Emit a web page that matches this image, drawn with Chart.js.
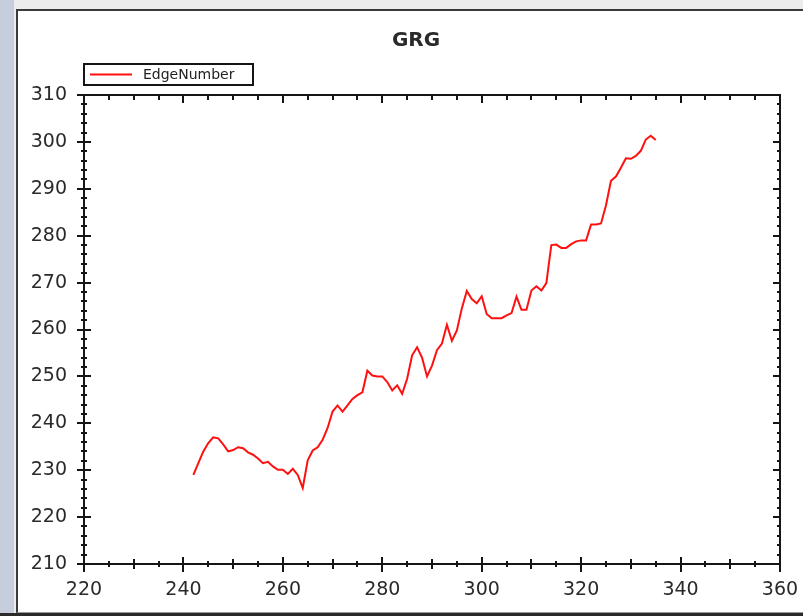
<!DOCTYPE html>
<html><head><meta charset="utf-8">
<script src="https://cdn.jsdelivr.net/npm/chart.js@4.4.0/dist/chart.umd.min.js"></script>
<style>
html,body{margin:0;padding:0;width:803px;height:616px;overflow:hidden;background:#ececec;}
#strip{position:absolute;left:0;top:0;width:14px;height:616px;background:#c6cddc;}
#frame{position:absolute;left:16px;top:9px;width:790px;height:601px;border-left:2px solid #3a3a3a;border-top:2px solid #3a3a3a;border-bottom:1px solid #999;background:#fff;}
#bottom{position:absolute;left:0;top:613px;width:803px;height:3px;background:#2a2a2a;}
#wrap{position:absolute;left:17px;top:11px;width:786px;height:600px;}
</style>
</head><body>
<div id="strip"></div>
<div id="frame"></div>
<div id="bottom"></div>
<div id="wrap"><canvas id="c" width="786" height="600"></canvas></div>
<script>
const chartTitle = 'GRG';
const seriesName = 'EdgeNumber';
const xValues = [242,243,244,245,246,247,248,249,250,251,252,253,254,255,256,257,258,259,260,261,262,263,264,265,266,267,268,269,270,271,272,273,274,275,276,277,278,279,280,281,282,283,284,285,286,287,288,289,290,291,292,293,294,295,296,297,298,299,300,301,302,303,304,305,306,307,308,309,310,311,312,313,314,315,316,317,318,319,320,321,322,323,324,325,326,327,328,329,330,331,332,333,334,335];
const yValues = [229.0,231.5,234.0,235.8,237.0,236.8,235.5,234.0,234.3,234.9,234.7,233.8,233.3,232.5,231.5,231.8,230.8,230.1,230.1,229.2,230.3,229.0,226.2,232.1,234.2,234.9,236.5,239.0,242.5,243.8,242.5,243.8,245.2,246.0,246.6,251.2,250.2,250.0,250.0,248.8,247.0,248.1,246.3,249.5,254.5,256.2,254.0,250.0,252.3,255.6,257.0,261.0,257.6,259.8,264.5,268.2,266.5,265.6,267.1,263.3,262.4,262.4,262.4,263.0,263.5,267.0,264.2,264.2,268.3,269.2,268.3,269.9,278.0,278.1,277.4,277.4,278.2,278.8,279.0,279.0,282.4,282.4,282.6,286.5,291.7,292.6,294.5,296.5,296.4,297.0,298.1,300.5,301.3,300.4];
const xTickLabels = [220,240,260,280,300,320,340,360];
const yTickLabels = [210,220,230,240,250,260,270,280,290,300,310];

const points = xValues.map((x,i)=>({x:x, y:yValues[i]}));

const axesBox = {
  id:'axesBox',
  afterLayout(chart){
    if (chart.titleBlock) { chart.titleBlock.left += 35; }
  },
  beforeDatasetsDraw(chart){
    const {ctx, chartArea:a, scales:{x,y}} = chart;
    ctx.save();
    ctx.strokeStyle = '#151515';
    ctx.lineWidth = 2;
    ctx.strokeRect(a.left, a.top, a.right-a.left, a.bottom-a.top);
    ctx.beginPath();
    for (let v = x.min; v <= x.max + 0.001; v += 5) {
      const px = Math.round(x.getPixelForValue(v));
      let up, down, topLen;
      if (v % 20 === 0) { up = 7; down = 8; topLen = 8; }
      else if (v % 10 === 0) { up = 5; down = 5; topLen = 5; }
      else { up = 3; down = 3; topLen = 5; }
      ctx.moveTo(px, a.bottom - up); ctx.lineTo(px, a.bottom + down);
      ctx.moveTo(px, a.top); ctx.lineTo(px, a.top + topLen);
    }
    for (let v = y.min; v <= y.max + 0.001; v += 2) {
      const py = Math.round(y.getPixelForValue(v));
      const major = (v % 10 === 0);
      const l = major ? 7 : 3;
      ctx.moveTo(a.left - l, py); ctx.lineTo(a.left + l, py);
      ctx.moveTo(a.right - (major ? 7 : 3), py); ctx.lineTo(a.right, py);
    }
    ctx.stroke();
    ctx.restore();
  },
  afterDraw(chart){
    const {ctx} = chart;
    const ds = chart.data.datasets[0];
    ctx.save();
    ctx.strokeStyle = '#151515';
    ctx.lineWidth = 2;
    ctx.strokeRect(67, 53, 169, 21);
    ctx.strokeStyle = ds.borderColor;
    ctx.lineWidth = 2;
    ctx.beginPath();
    ctx.moveTo(73, 63.5); ctx.lineTo(115, 63.5);
    ctx.stroke();
    ctx.fillStyle = '#222';
    ctx.font = '14px "DejaVu Sans"';
    ctx.textBaseline = 'middle';
    ctx.textAlign = 'left';
    ctx.fillText(ds.label, 126, 64);
    ctx.restore();
  }
};

new Chart(document.getElementById('c'), {
  type:'line',
  data:{ datasets:[{
    label: seriesName,
    data: points,
    borderColor:'#ff1010',
    backgroundColor:'#ff1010',
    borderWidth:2,
    pointRadius:0,
    tension:0,
    fill:false
  }]},
  options:{
    responsive:false,
    animation:false,
    layout:{padding:{left:0, right:23, top:0, bottom:0}},
    plugins:{
      legend:{display:false},
      tooltip:{enabled:false},
      title:{display:true, text:chartTitle, color:'#2a2a2a',
        font:{family:'DejaVu Sans', size:20, weight:'bold', lineHeight:1.2},
        padding:{top:18, bottom:42}}
    },
    scales:{
      x:{type:'linear', min:220, max:360,
        grid:{display:false, drawTicks:false}, border:{display:false},
        afterBuildTicks(s){ s.ticks = xTickLabels.map(v=>({value:v})); },
        afterFit(s){ s.height = 47; s.paddingLeft = 0; s.paddingRight = 0; },
        ticks:{padding:15, color:'#2a2a2a', maxRotation:0, autoSkip:false,
          font:{family:'DejaVu Sans', size:19}}
      },
      y:{type:'linear', min:210, max:310,
        grid:{display:false, drawTicks:false}, border:{display:false},
        afterBuildTicks(s){ s.ticks = yTickLabels.map(v=>({value:v})); },
        afterFit(s){ s.width = 67; s.paddingTop = 0; s.paddingBottom = 0; },
        ticks:{padding:17, color:'#2a2a2a', autoSkip:false,
          font:{family:'DejaVu Sans', size:19}}
      }
    }
  },
  plugins:[axesBox]
});
</script>
</body></html>
